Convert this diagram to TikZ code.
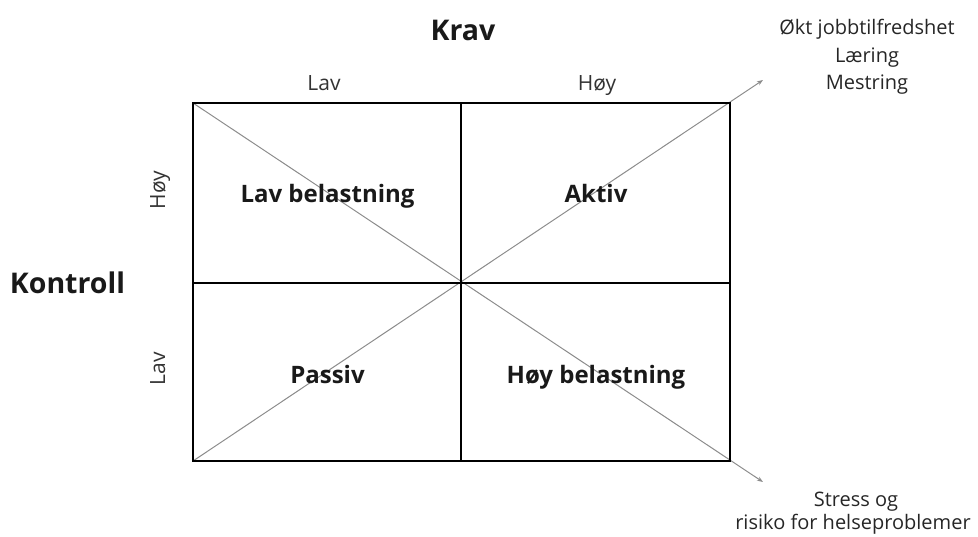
\documentclass[tikz,border=0pt]{standalone}
\usepackage{fontspec}
\setmainfont{Open Sans}
\usetikzlibrary{arrows.meta}
\tikzset{
    x=1pt, y=-1pt,
    grid line/.style={ % Frame and dividing lines
        draw=black,
        line width=2.5pt
    },
    diag line/.style={ % Grey diagonals ending in a small tip
        draw=black!45,
        line width=1pt,
        -{Stealth[length=6pt,width=4.5pt]}
    },
    every node/.style={anchor=base, inner sep=0pt},
    cell text/.style={font=\fontsize{24}{28}\selectfont\bfseries, text=black!90},
    axis title/.style={font=\fontsize{28.5}{32}\selectfont\bfseries, text=black!90},
    axis level/.style={font=\fontsize{21}{24}\selectfont, text=black!80},
    outcome/.style={font=\fontsize{20}{27.5}\selectfont, align=center, text=black!85}
}
\begin{document}
\begin{tikzpicture}
    \useasboundingbox (0,0) rectangle (978,536);
    % corners of the grid
    \coordinate (tl) at (193,103);
    \coordinate (br) at (730,461);
    \coordinate (tr) at (730,103);
    \coordinate (bl) at (193,461);
    \coordinate (mid) at (461,283);
    \coordinate (uptip) at (763,80);
    \coordinate (downtip) at (763,482);
    % diagonals
    \draw[diag line] (tl) -- (downtip);
    \draw[diag line] (bl) -- (uptip);
    % grid
    \draw[grid line] (tl) rectangle (br);
    \draw[grid line] (461,103) -- (461,461);
    \draw[grid line] (193,283) -- (730,283);
    % titles
    \node[axis title] (krav) at (463,40) {Krav};
    \node[axis title] (kontroll) at (67.5,293) {Kontroll};
    \node[axis level] (kravlav) at (324,90) {Lav};
    \node[axis level] (kravhoy) at (597,90) {Høy};
    \node[axis level, rotate=90] (konthoy) at (165,190) {Høy};
    \node[axis level, rotate=90] (kontlav) at (165,369) {Lav};
    % cells
    \node[cell text] (lavbel) at (327.5,202.7) {Lav belastning};
    \node[cell text] (aktiv) at (596,202.7) {Aktiv};
    \node[cell text] (passiv) at (327.5,383) {Passiv};
    \node[cell text] (hoybel) at (596,383) {Høy belastning};
    % outcomes
    \node[outcome, anchor=north] (positiv) at (867,19) {Økt jobbtilfredshet\\Læring\\Mestring};
    \node[outcome] (negativ) at (856,506) {Stress og};
    \node[outcome] (risiko) at (853,529) {risiko for helseproblemer};
\end{tikzpicture}
\end{document}
